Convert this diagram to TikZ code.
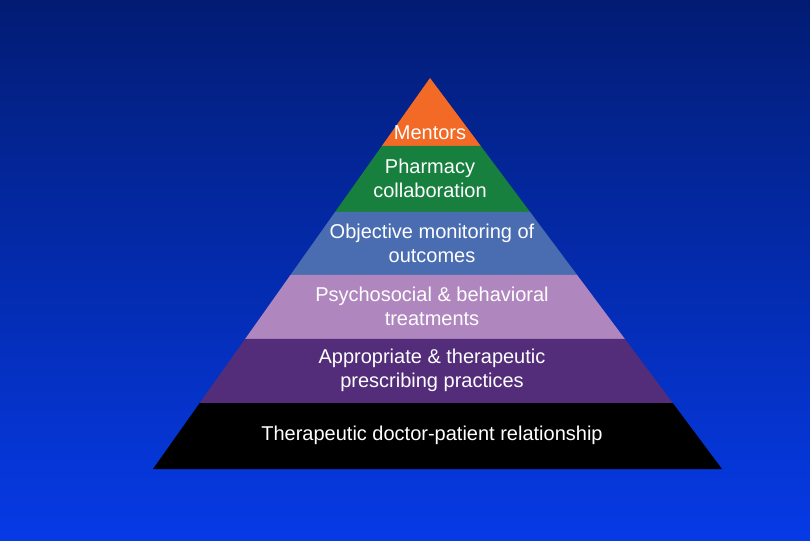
\documentclass[tikz,border=0pt]{standalone}
\usepackage{fontspec}
\setmainfont{Liberation Sans}
\usetikzlibrary{calc}
\definecolor{navy}{HTML}{021C74}
\definecolor{royal}{HTML}{063AE6}
\definecolor{mentorcol}{HTML}{F26A25}
\definecolor{pharmcol}{HTML}{17803F}
\definecolor{monitorcol}{HTML}{4A6DB2}
\definecolor{psychcol}{HTML}{B086BF}
\definecolor{prescol}{HTML}{532D7A}
\definecolor{basecol}{HTML}{000000}

\begin{document}
\begin{tikzpicture}[x=1pt,y=-1pt,
  tier/.style={text=white,align=center,inner sep=0pt,font=\fontsize{20}{24}\selectfont}]
  \shade[top color=navy,bottom color=royal] (0,0) rectangle (810,540);
  \coordinate (apex) at (430,78);
  \coordinate (bl) at (153,469);
  \coordinate (br) at (722,469);
  % layers, top to bottom
  \foreach \ta/\tb/\col in {0/0.1739/mentorcol,0.1739/0.3427/pharmcol,
      0.3427/0.5038/monitorcol,0.5038/0.6675/psychcol,
      0.6675/0.8312/prescol,0.8312/1/basecol}
    \fill[\col] ($(apex)!\ta!(bl)$) -- ($(apex)!\tb!(bl)$)
      -- ($(apex)!\tb!(br)$) -- ($(apex)!\ta!(br)$) -- cycle;
  \node[tier] (mentors) at (430,133) {Mentors};
  \node[tier] (pharmacy) at (430,178) {Pharmacy\\collaboration};
  \node[tier] (monitor) at (432,243) {Objective monitoring of\\outcomes};
  \node[tier] (psych) at (432,306) {Psychosocial \& behavioral\\treatments};
  \node[tier] (prescribe) at (432,370) {Appropriate \& therapeutic\\prescribing practices};
  \node[tier] (relation) at (432,435) {Therapeutic doctor-patient relationship};
\end{tikzpicture}
\end{document}
